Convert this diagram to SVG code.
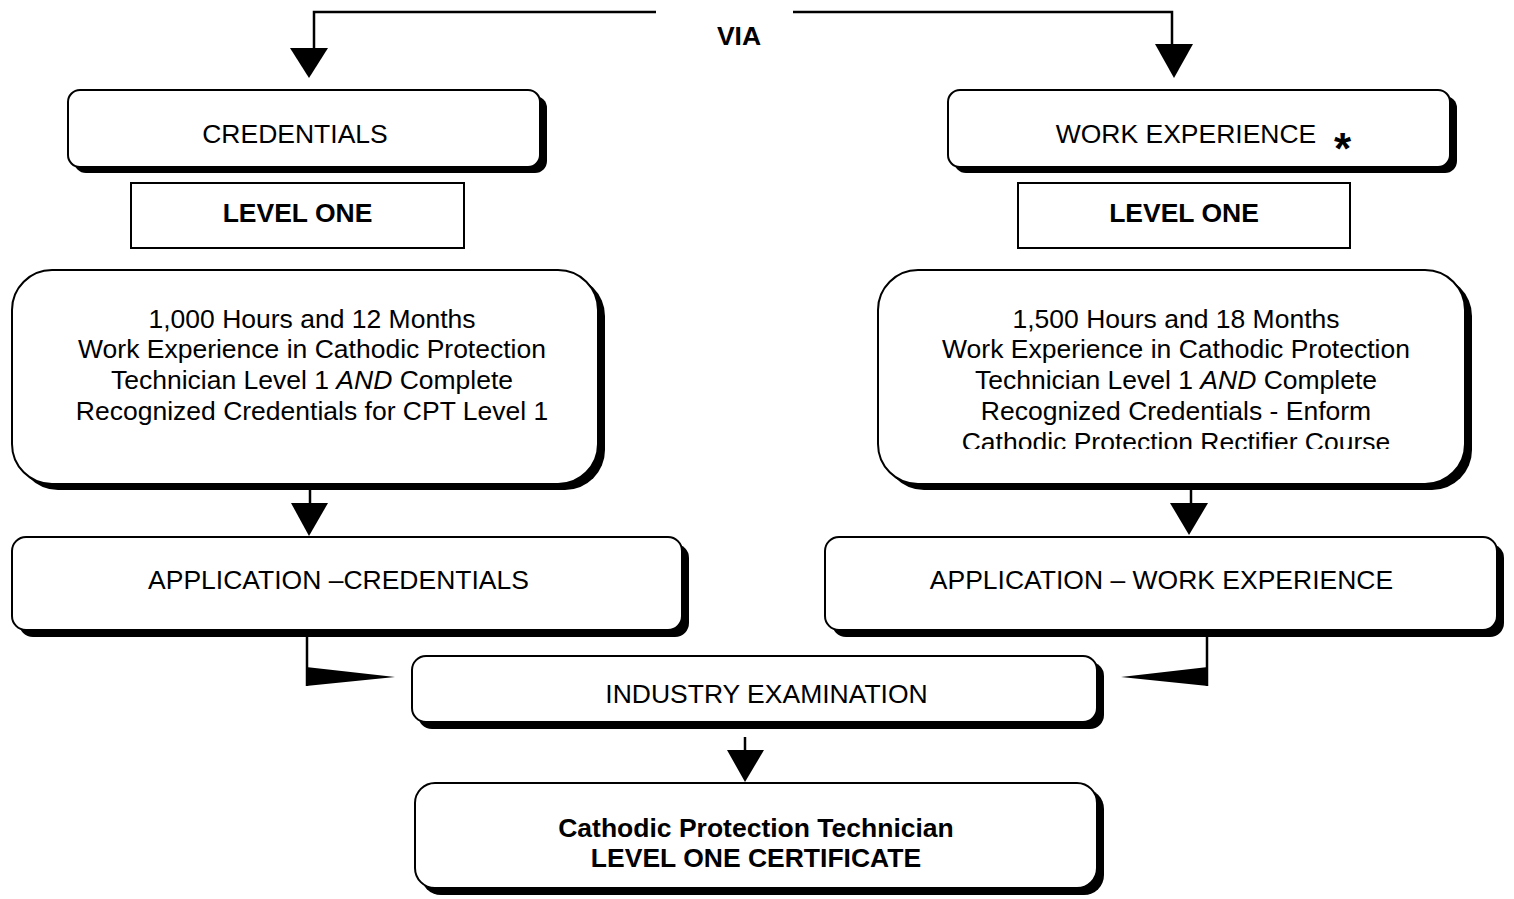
<svg xmlns="http://www.w3.org/2000/svg" width="1514" height="899" viewBox="0 0 1514 899">
<defs>
<style>
.sh{fill:#000;stroke:none}
.bx{fill:#fff;stroke:#000;stroke-width:2}
.t{font-family:"Liberation Sans",Arial,sans-serif;font-size:26.5px;fill:#000;text-anchor:middle}
.b{font-weight:bold}
.ln{fill:none;stroke:#000;stroke-width:2.5}
.ah{fill:#000;stroke:none}
</style>
<clipPath id="clipR"><rect x="870" y="260" width="620" height="189"/></clipPath>
</defs>
<rect width="1514" height="899" fill="#fff"/>

<g id="connectors">
<polyline class="ln" points="656,12 314,12 314,50"/>
<polygon class="ah" points="290,48 328,48 309,78"/>
<polyline class="ln" points="793,12 1172,12 1172,46"/>
<polygon class="ah" points="1155,44 1193,44 1174,78"/>
<line class="ln" x1="310" y1="488" x2="310" y2="505"/>
<polygon class="ah" points="291,503 328,503 309,536"/>
<line class="ln" x1="1191" y1="488" x2="1191" y2="505"/>
<polygon class="ah" points="1170,503 1208,503 1189,535"/>
<line class="ln" x1="307" y1="636" x2="307" y2="686"/>
<polygon class="ah" points="306,667 306,686 395,677"/>
<line class="ln" x1="1207" y1="636" x2="1207" y2="686"/>
<polygon class="ah" points="1208,667 1208,686 1121,677"/>
<line class="ln" x1="745" y1="737" x2="745" y2="752"/>
<polygon class="ah" points="727,750 764,750 745,782"/>
</g>

<g id="via"><text class="t b" x="739" y="45" font-size="25">VIA</text></g>

<g id="credentials">
<rect class="sh" x="74" y="96" width="473" height="77" rx="12"/>
<rect class="bx" x="68" y="90" width="472" height="77" rx="12"/>
<text class="t" x="295" y="143">CREDENTIALS</text>
</g>

<g id="work-experience">
<rect class="sh" x="954" y="96" width="503" height="77" rx="12"/>
<rect class="bx" x="948" y="90" width="502" height="77" rx="12"/>
<text class="t" x="1186" y="143">WORK EXPERIENCE</text>
<text class="b" x="1334" y="164" font-family="Liberation Sans,Arial,sans-serif" font-size="44">*</text>
</g>

<g id="level-one-left">
<rect x="131" y="183" width="333" height="65" fill="#fff" stroke="#000" stroke-width="2"/>
<text class="t b" x="297.5" y="222">LEVEL ONE</text>
</g>

<g id="level-one-right">
<rect x="1018" y="183" width="332" height="65" fill="#fff" stroke="#000" stroke-width="2"/>
<text class="t b" x="1184" y="222">LEVEL ONE</text>
</g>

<g id="req-credentials">
<rect class="sh" x="18" y="276" width="587" height="214" rx="40"/>
<rect class="bx" x="12" y="270" width="586" height="214" rx="40"/>
<text class="t" x="312" y="328">1,000 Hours and 12 Months</text>
<text class="t" x="312" y="358">Work Experience in Cathodic Protection</text>
<text class="t" x="312" y="389">Technician Level 1 <tspan font-style="italic">AND</tspan> Complete</text>
<text class="t" x="312" y="420">Recognized Credentials for CPT Level 1</text>
</g>

<g id="req-work">
<rect class="sh" x="884" y="276" width="588" height="214" rx="40"/>
<rect class="bx" x="878" y="270" width="587" height="214" rx="40"/>
<g clip-path="url(#clipR)">
<text class="t" x="1176" y="328">1,500 Hours and 18 Months</text>
<text class="t" x="1176" y="358">Work Experience in Cathodic Protection</text>
<text class="t" x="1176" y="389">Technician Level 1 <tspan font-style="italic">AND</tspan> Complete</text>
<text class="t" x="1176" y="420">Recognized Credentials - Enform</text>
<text class="t" x="1176" y="451">Cathodic Protection Rectifier Course</text>
</g>
</g>

<g id="app-credentials">
<rect class="sh" x="19" y="544" width="670" height="93" rx="14"/>
<rect class="bx" x="12" y="537" width="670" height="93" rx="14"/>
<text class="t" x="338.5" y="589">APPLICATION –CREDENTIALS</text>
</g>

<g id="app-work">
<rect class="sh" x="832" y="544" width="672" height="93" rx="14"/>
<rect class="bx" x="825" y="537" width="672" height="93" rx="14"/>
<text class="t" x="1161.5" y="589">APPLICATION – WORK EXPERIENCE</text>
</g>

<g id="industry-exam">
<rect class="sh" x="418" y="662" width="686" height="67" rx="14"/>
<rect class="bx" x="412" y="656" width="685" height="66" rx="14"/>
<text class="t" x="766.5" y="703">INDUSTRY EXAMINATION</text>
</g>

<g id="certificate">
<rect class="sh" x="421" y="789" width="683" height="106" rx="20"/>
<rect class="bx" x="415" y="783" width="682" height="105" rx="20"/>
<text class="t b" x="756" y="837">Cathodic Protection Technician</text>
<text class="t b" x="756" y="867">LEVEL ONE CERTIFICATE</text>
</g>
</svg>
